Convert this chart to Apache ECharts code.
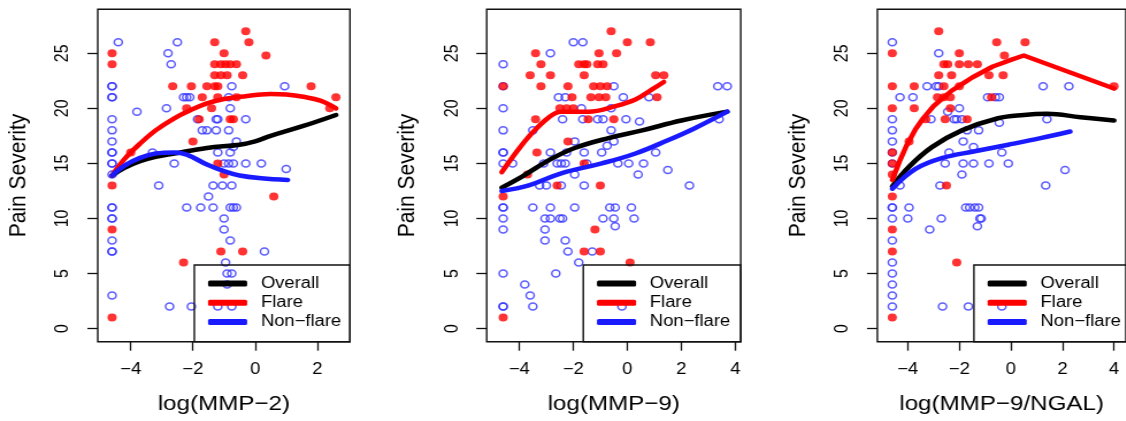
<!DOCTYPE html>
<html>
<head>
<meta charset="utf-8">
<title>Pain Severity vs biomarkers</title>
<script src="https://cdn.jsdelivr.net/npm/echarts@6.0.0/dist/echarts.min.js"></script>
<style>
html, body { margin: 0; padding: 0; background: #fff; overflow: hidden; }
/* the source figure is stretched horizontally, so the chart is drawn narrow and widened */
#chart { width: 979px; height: 421px; transform: scaleX(1.15); transform-origin: 0 0; }
</style>
</head>
<body>
<div id="chart"></div>
<script>
// ---- data ----
var yTicks = [0, 5, 10, 15, 20, 25];
var xTicks2 = [-4, -2, 0, 2];
var xTicks9 = [-4, -2, 0, 2, 4];
var xTicksRatio = [-4, -2, 0, 2, 4];
var xTitles = ['log(MMP\u22122)', 'log(MMP\u22129)', 'log(MMP\u22129/NGAL)'];
var legendNames = ['Overall', 'Flare', 'Non\u2212flare'];

// log(MMP-2)
var mmp2Flare = [[-4.6,25],[-4.6,24],[-4.6,13],[-4.6,9],[-4.6,1],
  [-0.3,27],[-1.3,26],[-0.2,26],[-1.0,25],[0.35,24.8],
  [-1.3,24],[-1.1,24],[-0.95,24],[-0.8,24],[-0.6,24],
  [-1.3,23],[-1.1,23],[-0.9,23],[-0.4,23],
  [-2.65,22],[-2.05,22],[-1.55,22],[-1.3,22],[-1.2,22],[1.8,22],
  [-1.7,21],[-1.2,21],[-0.6,21],[2.6,21],
  [-2.2,20],[-1.4,20],[2.4,20],
  [-1.8,19],[-0.8,19],[-0.7,19],
  [-2.0,17],[-4.0,16],[-1.2,15],[-1.0,14],[0.6,12],
  [-1.1,7],[-0.4,7],[-2.3,6]];
var mmp2NonFlare = [[-4.6,22],[-4.6,22],[-4.6,21],[-4.6,21],[-4.6,19],[-4.6,18],[-4.6,17],[-4.6,16],[-4.6,16],
  [-4.6,15],[-4.6,15],[-4.6,14],[-4.6,11],[-4.6,11],[-4.6,10],[-4.6,10],[-4.6,8],[-4.6,7],[-4.6,7],[-4.6,3],
  [-4.4,26],[-3.8,19.7],[-3.3,16],[-3.1,13],[-2.8,25],[-2.7,24],[-2.85,20],[-2.6,15],[-2.5,26],
  [-2.3,21],[-2.2,21],[-2.1,21],[-2.2,11],[-1.85,19],[-1.75,11],[-1.7,18],[-1.5,12],[-1.55,18],
  [-1.35,11],[-1.35,13],[-1.25,18],[-1.25,19],[-1.2,19],[-1.2,16],[-1.05,13],[-1.0,10],[-1.0,9],
  [-0.95,6],[-0.9,5],[-0.75,5],[-0.9,4],[-0.85,21],[-0.85,18],[-0.85,15],[-0.8,16],[-0.75,22],
  [-0.75,13],[-0.8,11],[-0.7,11],[-0.6,11],[-0.8,8],[-0.7,16.5],[-0.6,17],[-0.3,19],[-0.3,15],[0.2,15],
  [0.3,7],[0.95,22],[1.0,14.5],[-0.8,20],[-1.0,15],[-0.7,15],[-2.75,2],[-2.05,2],[-1.2,2],[-0.75,2]];
var mmp2OverallFit = [[-4.6,13.9],[-4.2,14.6],[-3.7,15.2],[-3.2,15.6],[-2.6,15.9],[-1.55,16.4],[-0.5,16.7],
  [0,17],[0.5,17.5],[1.55,18.4],[2.6,19.4]];
var mmp2FlareFit = [[-4.6,13.9],[-4.2,15.4],[-3.7,16.8],[-3.2,18.0],[-2.6,19.1],[-2.1,19.8],[-1.55,20.45],
  [-1,20.85],[-0.5,21.05],[0.5,21.3],[1.0,21.25],[1.55,21.05],[2.1,20.7],[2.6,20.0]];
var mmp2NonFlareFit = [[-4.6,13.9],[-4.2,14.8],[-3.7,15.5],[-3.2,15.9],[-2.6,16.0],[-2.2,15.8],[-1.55,14.9],
  [-1.0,14.3],[-0.5,13.9],[0.2,13.65],[1.05,13.5]];

// log(MMP-9)
var mmp9Flare = [[-4.6,22],[-4.6,12],[-4.6,1],
  [-0.6,27],[0,26],[0.85,26],[-3.4,25],[-1.05,25],[-0.4,25],
  [-3.2,24],[-1.8,24],[-1.6,24],[-1.5,24],[-1.1,24],[-0.9,24],
  [-3.6,23],[-2.85,23],[-1.6,23],[1.05,23],[1.35,23],
  [-3.2,22],[-2.2,22],[-1.25,22],[-1.0,22],[-0.75,22],
  [-2.05,21],[-1.35,21],[-1.05,21],[-0.8,21],[1.1,21],
  [-2.5,20],[-2.25,20],[-2.0,20],
  [-3.4,19],[-1.45,19],[-0.5,19],
  [-2.2,17],[-3.35,16],[-1.6,15],[-3.7,14],[-2.6,13],[-1.0,13],[-1.2,9],[-1.6,7],[-1.0,7],[0.1,6]];
var mmp9NonFlare = [[-4.6,24],[-4.6,22],[-4.6,20],[-4.6,18],[-4.6,16],[-4.6,16],[-4.6,15],[-4.6,11],[-4.6,11],
  [-4.6,10],[-4.6,9],[-4.6,5],[-4.6,2],[-4.6,2],
  [-4.25,15],[-2.0,26],[-1.65,26],[-2.85,25],[-0.5,22],[-2.55,21],[-2.3,21],[-0.15,21],[0.8,21],[3.35,22],[3.7,22],
  [-1.7,20],[-0.6,20],[-2.4,19],[-1.65,19],[-1.1,19],[-0.9,19],[-0.05,19],[0.45,18.8],[3.4,19],
  [-0.6,18],[-3.5,18],[-1.95,17],[-0.5,17],[-0.75,16.6],[-2.85,16],[-2.25,16],[-1.6,16],[-0.95,16],[1.05,16],
  [-3.1,15],[-2.6,15],[-2.45,15],[-2.3,15],[-1.5,15],[-0.35,15],[0.05,15],[0.6,15],[0.4,14],[1.5,14.4],[-1.95,14],
  [-3.25,13],[-3.0,13],[-2.45,13],[-1.6,13],[2.3,13],
  [-3.5,11],[-2.85,11],[-1.95,11],[-0.65,11],[-0.45,11],[0.15,11],
  [-3.05,10],[-2.85,10],[-2.5,10],[-2.4,10],[-0.9,10],[-0.5,10],[0.25,10],
  [-3.05,9],[-0.45,9.3],[-3.05,8],[-2.3,8],[-2.2,7],[-1.3,7],[-1.8,6],[-2.65,5],[-3.8,4],[-3.6,3],[-3.5,2],[-0.2,2]];
var mmp9OverallFit = [[-4.65,12.8],[-3.9,13.8],[-2.9,15.3],[-1.95,16.4],[-0.7,17.3],[0.55,18],[2,18.9],[3.7,19.7]];
var mmp9FlareFit = [[-4.65,14.2],[-4.15,15.9],[-3.55,17.7],[-2.9,19.2],[-2.45,19.7],[-1.45,19.7],[-0.45,20.2],[0.3,20.8],[0.9,21.7],[1.35,22.4]];
var mmp9NonFlareFit = [[-4.65,12.5],[-3.65,13],[-2.45,14.1],[-0.95,15],[0.3,15.9],[1.5,17.1],[2.5,18.2],[3.7,19.7]];

// log(MMP-9/NGAL)
var ratioFlare = [[-4.6,25],[-4.6,22],[-4.6,20],[-4.6,16],[-4.6,15],[-4.6,14],[-4.6,12],[-4.6,9],[-4.6,7],[-4.6,1],
  [-2.8,27],[-0.55,26],[0.55,26],[-2.0,25],[-0.25,24.8],
  [-2.6,24],[-2.45,24],[-2.0,24],[-1.65,24],[-1.3,24],
  [-2.8,23],[-2.3,23],[-0.85,23],[-0.3,23],
  [-3.75,22],[-2.6,22],[-2.0,22],
  [-2.85,21],[-2.6,21],[-2.35,21],[-0.75,21],
  [-3.75,20],[-2.35,20],
  [-3.3,19],[-2.55,19],[-1.7,19],
  [-3.95,17],[-2.5,13],[-2.1,6],[4.0,22]];
var ratioNonFlare = [[-4.6,26],[-4.6,19],[-4.6,18],[-4.6,17],[-4.6,16],[-4.6,15],[-4.6,11],[-4.6,11],[-4.6,10],
  [-4.6,8],[-4.6,6],[-4.6,5],[-4.6,4],[-4.6,3],[-4.6,2],
  [-4.3,21],[-4.3,13],[-3.95,11],[-4.0,10],[-2.8,25],[-3.25,22],[-2.9,22],[-2.8,22],[1.25,22],[2.25,22],
  [-3.8,21],[-0.9,21],[-0.6,21],[-0.45,21],[-2.0,20],[-2.45,19.7],[-3.1,19],[-2.2,19],[-2.1,19],[-1.9,19],[-0.45,18.7],[1.4,19],
  [-1.7,18],[-1.25,18],[-1.85,17],[-1.45,16.5],[-2.4,16],[-0.35,16],
  [-2.55,15],[-1.85,15],[-1.45,15],[-0.85,15],[-0.1,15],[2.1,14.4],[-1.9,14],
  [-2.75,13],[1.35,13],
  [-1.75,11],[-1.6,11],[-1.4,11],[-1.25,11],[-2.7,10],[-1.2,10],[-1.15,10],[-1.3,9.3],[-3.15,9],
  [-2.65,2],[-1.65,2],[-0.35,2]];
var ratioOverallFit = [[-4.6,12.9],[-3.95,14.7],[-3.05,16.5],[-1.9,18],[-0.5,19.1],[0.5,19.4],[1.4,19.5],[2.7,19.2],[4,18.9]];
var ratioFlareFit = [[-4.6,13.5],[-4.3,15.3],[-4.05,16.6],[-3.7,18.1],[-3.4,19.1],[-3,20.2],[-2.65,20.9],[-2.3,21.6],
  [-1.9,22.2],[-1.5,22.8],[-1.1,23.3],[-0.7,23.8],[-0.35,24.1],[0,24.4],[0.5,24.8],[4,21.8]];
var ratioNonFlareFit = [[-4.6,12.7],[-3.7,14.5],[-2.65,15.5],[-1.4,16.1],[-0.1,16.7],[1.15,17.3],[2.3,17.9]];

// ---- layout ----
var FONT = 'Liberation Sans, Arial, Helvetica, sans-serif';
var panels = [
  { left: 85.0, width: 219.3, xMin: -5.06, xMax: 3.05, ticks: xTicks2,
    flare: mmp2Flare, nonFlare: mmp2NonFlare, fits: [mmp2OverallFit, mmp2FlareFit, mmp2NonFlareFit], smoothFlare: true },
  { left: 423.2, width: 220.9, xMin: -5.21, xMax: 4.2, ticks: xTicks9,
    flare: mmp9Flare, nonFlare: mmp9NonFlare, fits: [mmp9OverallFit, mmp9FlareFit, mmp9NonFlareFit], smoothFlare: true },
  { left: 762.9, width: 219.7, xMin: -5.18, xMax: 4.46, ticks: xTicksRatio,
    flare: ratioFlare, nonFlare: ratioNonFlare, fits: [ratioOverallFit, ratioFlareFit, ratioNonFlareFit], smoothFlare: false }
];
var GRID_TOP = 9.3, GRID_H = 332.4;
var fitColors = ['#000000', '#ff0000', '#1a1aff'];

function minusSign(v) {
  return String(v).replace('-', '\u2212');
}

var grids = [], xAxes = [], yAxes = [], series = [], legends = [], boxes = [];

panels.forEach(function (p, i) {
  grids.push({
    left: p.left, top: GRID_TOP, width: p.width, height: GRID_H,
    show: true, borderColor: '#111', borderWidth: 1.4, backgroundColor: 'transparent'
  });
  xAxes.push({
    gridIndex: i, type: 'value', min: p.xMin, max: p.xMax, position: 'bottom',
    name: xTitles[i], nameLocation: 'middle', nameGap: 52,
    nameTextStyle: { fontSize: 21, color: '#000', fontFamily: FONT },
    axisLine: { show: false, onZero: false },
    splitLine: { show: false },
    axisTick: { show: true, length: 9, customValues: p.ticks, lineStyle: { color: '#111', width: 1.3 } },
    axisLabel: { customValues: p.ticks, formatter: minusSign, margin: 20, fontSize: 16, color: '#000', fontFamily: FONT }
  });
  yAxes.push({
    gridIndex: i, type: 'value', min: -1.2, max: 29.0, position: 'left',
    name: 'Pain Severity', nameLocation: 'middle', nameGap: 58,
    nameTextStyle: { fontSize: 21, color: '#000', fontFamily: FONT },
    axisLine: { show: false, onZero: false },
    splitLine: { show: false },
    axisTick: { show: true, length: 9, customValues: yTicks, lineStyle: { color: '#111', width: 1.3 } },
    axisLabel: { customValues: yTicks, rotate: 90, margin: 22, fontSize: 16, color: '#000', fontFamily: FONT }
  });

  series.push({
    name: 'Non-flare patients', type: 'scatter', xAxisIndex: i, yAxisIndex: i, z: 2,
    symbol: 'circle', symbolSize: 7,
    itemStyle: { color: 'rgba(0,0,0,0)', borderColor: '#3535ff', borderWidth: 1.5 },
    data: p.nonFlare
  });
  series.push({
    name: 'Flare patients', type: 'scatter', xAxisIndex: i, yAxisIndex: i, z: 3,
    symbol: 'circle', symbolSize: 8,
    itemStyle: { color: '#ff0000' },
    data: p.flare
  });
  p.fits.forEach(function (fit, k) {
    var smooth = (k === 1 && !p.smoothFlare) ? false : 0.4;
    series.push({
      name: legendNames[k], type: 'line', xAxisIndex: i, yAxisIndex: i, z: 4,
      showSymbol: false, smooth: smooth,
      itemStyle: { color: fitColors[k] },
      lineStyle: { color: fitColors[k], width: 4.5, cap: 'round', join: 'round' },
      data: fit
    });
  });

  // legend box sits in the bottom-right corner of each panel
  var boxLeft = p.left + 84;
  legends.push({
    orient: 'vertical', left: boxLeft + 11.9, top: 275.5, padding: 0,
    itemWidth: 34, itemHeight: 6, itemGap: 3.2, icon: 'roundRect',
    selectedMode: false,
    textStyle: { fontSize: 16, color: '#000', fontFamily: FONT, padding: [0, 0, 0, 7] },
    data: legendNames
  });
  boxes.push({
    type: 'rect', z: 10,
    shape: { x: boxLeft, y: 265, width: p.left + p.width - boxLeft, height: GRID_TOP + GRID_H - 265 },
    style: { fill: 'none', stroke: '#111', lineWidth: 1.4 }
  });
});

var chart = echarts.init(document.getElementById('chart'));
chart.setOption({
  animation: false,
  backgroundColor: '#fff',
  grid: grids,
  xAxis: xAxes,
  yAxis: yAxes,
  legend: legends,
  graphic: boxes,
  series: series
});
</script>
</body>
</html>
